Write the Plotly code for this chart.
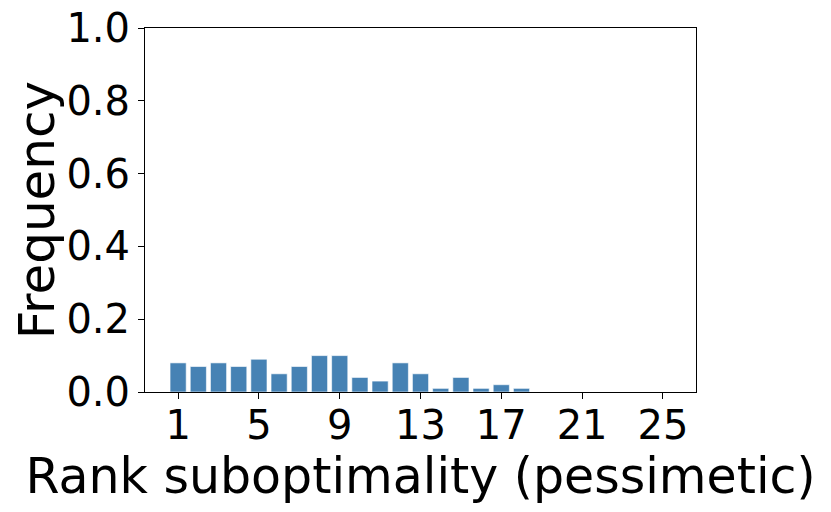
import plotly.graph_objects as go

ranks = list(range(1, 26))
freq = [0.08, 0.07, 0.08, 0.07, 0.09, 0.05, 0.07, 0.10, 0.10, 0.04, 0.03, 0.08, 0.05,
        0.01, 0.04, 0.01, 0.02, 0.01, 0, 0, 0, 0, 0, 0, 0]
x_ticks = [1, 5, 9, 13, 17, 21, 25]
y_ticks = [0.0, 0.2, 0.4, 0.6, 0.8, 1.0]

fig = go.Figure(go.Bar(
    x=ranks, y=freq, width=0.8,
    marker=dict(color="#4682B4", line=dict(color="white", width=0.6)),
))

font = "DejaVu Sans"
fig.update_layout(
    width=831, height=512,
    margin=dict(l=137, r=143, t=20, b=128),
    plot_bgcolor="white", paper_bgcolor="white",
    font=dict(family=font, color="black"),
    showlegend=False,
    xaxis=dict(
        range=[-0.64, 26.64], tickmode="array", tickvals=x_ticks,
        ticktext=[str(v) for v in x_ticks], automargin=False,
        showgrid=False, zeroline=False, showline=True, linecolor="black",
        linewidth=1, mirror=True, ticks="outside", ticklen=6, tickcolor="black",
        tickfont=dict(size=40, family=font), ticklabelstandoff=-8,
        ticklabeloverflow="allow",
        title=dict(text="Rank suboptimality (pessimetic)", font=dict(size=49, family=font), standoff=0),
    ),
    yaxis=dict(
        range=[0, 1.0], tickmode="array", tickvals=y_ticks,
        ticktext=[f"{v:.1f}" for v in y_ticks], automargin=False,
        showgrid=False, zeroline=False, showline=True, linecolor="black",
        linewidth=1, mirror=True, ticks="outside", ticklen=6, tickcolor="black",
        tickfont=dict(size=40, family=font), ticklabeloverflow="allow",
        title=dict(text="Frequency", font=dict(size=50, family=font), standoff=4),
    ),
)

fig.write_html("out.html")
